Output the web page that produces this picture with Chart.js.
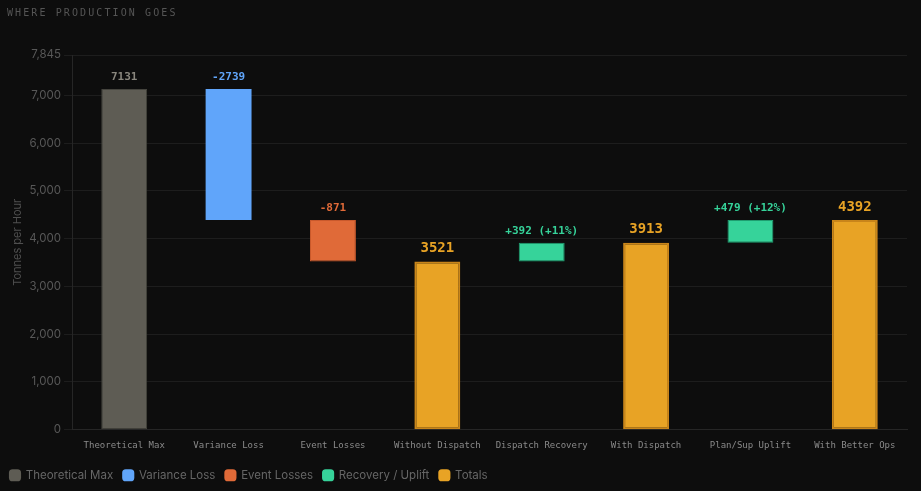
<!DOCTYPE html>
<html>
<head>
<meta charset="utf-8">
<script src="https://cdn.jsdelivr.net/npm/chart.js@4"></script>
<style>
  html, body { margin: 0; padding: 0; background: #0d0d0d; }
</style>
</head>
<body>
<canvas id="chart" width="921" height="491"></canvas>
<script>
const chartTitle = 'WHERE PRODUCTION GOES';
const categories = ['Theoretical Max', 'Variance Loss', 'Event Losses', 'Without Dispatch',
  'Dispatch Recovery', 'With Dispatch', 'Plan/Sup Uplift', 'With Better Ops'];
const barStarts = [0, 4392, 3521, 0, 3521, 0, 3913, 0];
const barEnds = [7131, 7131, 4392, 3521, 3913, 3913, 4392, 4392];
const barLabels = ['7131', '-2739', '-871', '3521', '+392 (+11%)', '3913', '+479 (+12%)', '4392'];
const barKinds = ['max', 'variance', 'event', 'total', 'uplift', 'total', 'uplift', 'total'];
const yMax = 7845;
const yTicks = [0, 1000, 2000, 3000, 4000, 5000, 6000, 7000, 7845];

const legendNames = ['Theoretical Max', 'Variance Loss', 'Event Losses', 'Recovery / Uplift', 'Totals'];
const legendKinds = ['max', 'variance', 'event', 'uplift', 'total'];

const fill = { max: '#5e5c54', variance: '#60a5fa', event: '#e06a38', uplift: '#36d39a', total: '#e8a325' };
const edge = { max: '#45443e', variance: '#5596e6', event: '#c9592c', uplift: '#1f9e70', total: '#c9851a' };
const labelColor = { max: '#8a877e', variance: '#60a5fa', event: '#e06a38', uplift: '#36d39a', total: '#e8a325' };

// background + spaced-out heading in the top-left corner
const frame = {
  id: 'frame',
  beforeDraw(chart) {
    const ctx = chart.ctx;
    ctx.save();
    ctx.fillStyle = '#0d0d0d';
    ctx.fillRect(0, 0, chart.width, chart.height);
    ctx.font = '10px "DejaVu Sans Mono", monospace';
    ctx.letterSpacing = '2.1px';
    ctx.fillStyle = '#555555';
    ctx.textBaseline = 'middle';
    ctx.fillText(chartTitle, 7, 13);
    ctx.restore();
  }
};

const barValueLabels = {
  id: 'barValueLabels',
  afterDatasetsDraw(chart) {
    const ctx = chart.ctx;
    const meta = chart.getDatasetMeta(0);
    ctx.save();
    ctx.textAlign = 'center';
    ctx.textBaseline = 'bottom';
    meta.data.forEach((bar, i) => {
      const kind = barKinds[i];
      const top = Math.min(bar.y, bar.base);
      ctx.font = kind === 'total' ? 'bold 14px "DejaVu Sans Mono", monospace'
                                  : 'bold 11px "DejaVu Sans Mono", monospace';
      ctx.fillStyle = labelColor[kind];
      ctx.fillText(barLabels[i], bar.x, top - 6);
    });
    ctx.restore();
  }
};

new Chart(document.getElementById('chart'), {
  type: 'bar',
  data: {
    labels: categories,
    datasets: [{
      label: 'Production',
      data: barStarts.map((s, i) => [s, barEnds[i]]),
      backgroundColor: barKinds.map(k => fill[k]),
      borderColor: barKinds.map(k => edge[k]),
      borderWidth: barKinds.map(k => k === 'variance' ? 0 : (k === 'total' ? 2 : 1)),
      borderSkipped: false,
      categoryPercentage: 1,
      barPercentage: 0.44
    }]
  },
  options: {
    responsive: false,
    animation: false,
    layout: { padding: { top: 55, right: 14, left: 0, bottom: 0 } },
    scales: {
      x: {
        grid: { display: false },
        border: { color: '#262626' },
        afterFit: axis => { axis.height += 5; },
        ticks: {
          autoSkip: false, maxRotation: 0, color: '#8a8a8a',
          font: { family: '"DejaVu Sans Mono", monospace', size: 9 }
        }
      },
      y: {
        min: 0,
        max: yMax,
        afterBuildTicks: axis => { axis.ticks = yTicks.map(v => ({ value: v })); },
        grid: { color: '#1d1d1d' },
        border: { color: '#262626' },
        ticks: { color: '#585858', font: { family: 'Inter', size: 11.5 } },
        title: {
          display: true, text: 'Tonnes per Hour', color: '#4f4f4f',
          font: { family: 'Inter', size: 11 }, padding: { top: 11, bottom: 2 }
        }
      }
    },
    plugins: {
      tooltip: { enabled: false },
      legend: {
        position: 'bottom',
        align: 'start',
        labels: {
          color: '#666',
          font: { family: 'Inter', size: 11.5 },
          boxWidth: 10,
          boxHeight: 10,
          padding: 10,
          usePointStyle: true,
          pointStyle: 'rectRounded',
          generateLabels: () => legendNames.map((name, i) => ({
            text: name,
            fillStyle: fill[legendKinds[i]],
            strokeStyle: fill[legendKinds[i]],
            lineWidth: 0,
            pointStyle: 'rectRounded',
            fontColor: '#666',
            hidden: false,
            datasetIndex: 0
          }))
        }
      }
    }
  },
  plugins: [frame, barValueLabels]
});
</script>
</body>
</html>
